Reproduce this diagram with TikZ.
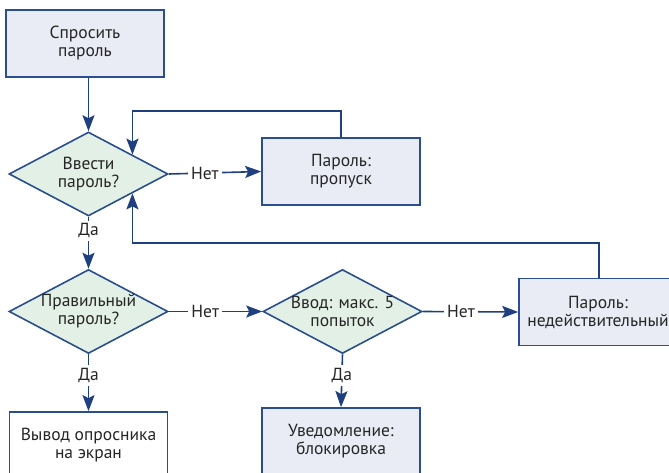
\documentclass[tikz,border=0pt]{standalone}
\usepackage{fontspec}
\setmainfont{PT Sans}
\usetikzlibrary{shapes.geometric,arrows.meta,calc}
\definecolor{edge}{HTML}{2A4E8E}
\definecolor{conn}{HTML}{1E3F80}
\definecolor{boxfill}{HTML}{E9ECF4}
\definecolor{diafill}{HTML}{E2F0E6}
\definecolor{ink}{HTML}{262626}
\begin{document}
\begin{tikzpicture}[x=1pt,y=-1pt,
  every node/.style={font=\fontsize{17.5}{18}\selectfont, text=ink},
  procbox/.style={draw=edge, line width=1.7pt, fill=boxfill, minimum width=158pt, minimum height=67pt, align=center, inner sep=0pt},
  whitebox/.style={procbox, fill=white},
  dia/.style={shape=diamond, draw=edge, line width=1.6pt, fill=diafill, minimum width=159pt, minimum height=84pt, inner sep=0pt},
  diatext/.style={align=center, inner sep=0pt},
  arr/.style={draw=conn, line width=1.6pt, -{Stealth[length=16pt,width=12pt,inset=3pt]}},
  lbl/.style={fill=white, inner sep=3pt}
]
\clip (0,0) rectangle (669,473);
\useasboundingbox (0,0) rectangle (669,473);
\fill[white] (0,0) rectangle (669,473);

\node[procbox] (ask) at (85,43.5) {Спросить\\пароль};
\node[dia] (d1) at (88.5,174) {};
\node[diatext] (d1t) at (d1.center) {Ввести\\пароль?};
\node[procbox] (skip) at (341,171.5) {Пароль:\\пропуск};
\node[dia] (d2) at (88.5,311.5) {};
\node[diatext] (d2t) at (d2.center) {Правильный\\пароль?};
\node[dia] (d3) at (342.5,311.5) {};
\node[diatext] (d3t) at (d3.center) {Ввод: макс. 5\\попыток};
\node[procbox] (bad) at (598,312) {Пароль:\\недействительный};
\node[whitebox] (show) at (88.5,445.5) {Вывод опросника\\на экран};
\node[procbox] (lock) at (341,441.5) {Уведомление:\\блокировка};

\coordinate (inTop) at ($(d1.north)!0.547!(d1.east)$);
\coordinate (inBot) at ($(d1.south)!0.547!(d1.east)$);

\draw[arr] (ask.south -| d1.north) -- (d1.north);
\draw[arr] (d1.east) -- node[lbl, pos=0.39] (n1) {Нет} (skip.west);
\draw[arr] (skip.north) |- (inTop |- 0,111) -- (inTop);
\draw[arr] (bad.north -| 599,0) |- (inBot |- 0,243) -- (inBot);
\draw[arr] (d1.south) -- node[lbl, pos=0.27] (y1) {Да} (d2.north);
\draw[arr] (d2.east) -- node[lbl, pos=0.39] (n2) {Нет} (d3.west);
\draw[arr] (d3.east) -- node[lbl, pos=0.4] (n3) {Нет} (bad.west);
\draw[arr] (d2.south) -- node[lbl, pos=0.37] (y2) {Да} (show.north);
\draw[arr] (d3.south) -- node[lbl, pos=0.4] (y3) {Да} (lock.north);
\end{tikzpicture}
\end{document}
